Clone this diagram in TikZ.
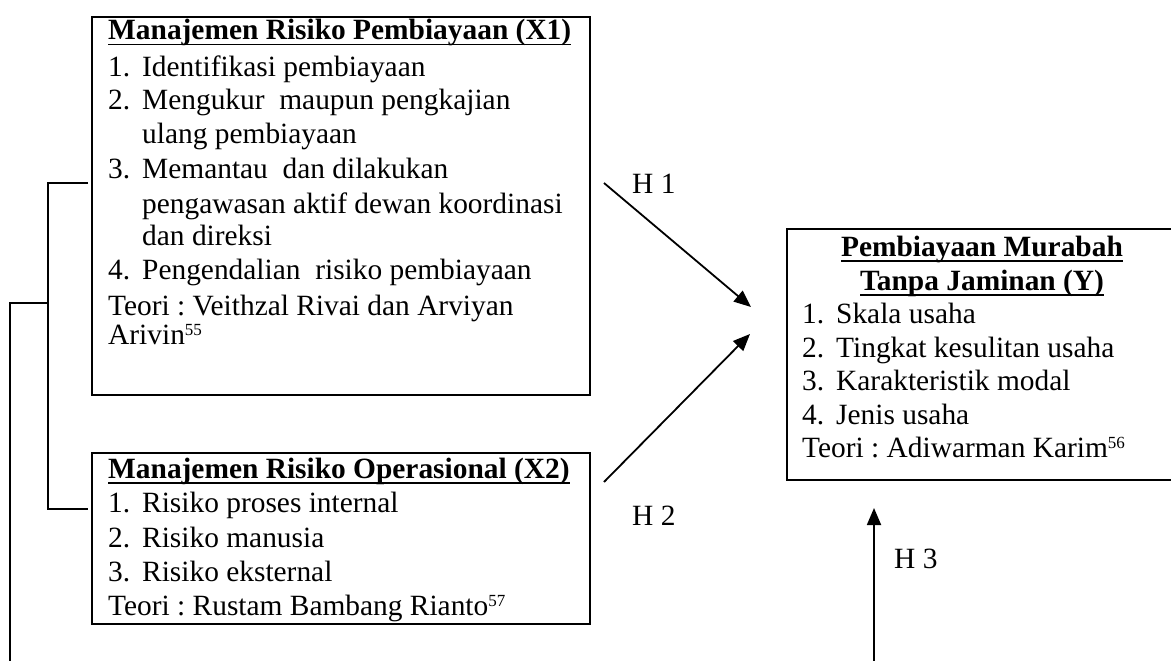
\documentclass[tikz,border=0pt]{standalone}
\usepackage{fontspec}
\setmainfont{Liberation Serif}
\usetikzlibrary{arrows.meta}
\frenchspacing
\newcommand\myul[1]{{\setbox0\hbox{#1}\rlap{\rule[-5.5pt]{\wd0}{1.6pt}}\box0}}
\newcommand\num[1]{\makebox[34pt][l]{#1}}
\newcommand\mysupr[1]{\raisebox{9pt}{\fontsize{17}{17}\selectfont #1}}
\begin{document}
\begin{tikzpicture}[x=1pt,y=-1pt,
  every node/.style={font=\fontsize{29.4}{34}\selectfont},
  box/.style={draw,line width=1.8pt,anchor=north west,inner sep=0pt},
  txt/.style={anchor=base west,inner sep=0pt},
  ttl/.style={anchor=base,inner sep=0pt,font=\fontsize{29.4}{34}\selectfont\bfseries},
  link/.style={line width=1.5pt},
  arr/.style={line width=1.8pt,-{Triangle[length=17pt,width=14pt]}}]
\useasboundingbox (0,0) rectangle (1171,661);
\clip (0,0) rectangle (1171,661);
% boxes
\node[box,minimum width=498pt,minimum height=378pt] (x1) at (91,16) {};
\node[box,minimum width=498pt,minimum height=171pt] (x2) at (91,452) {};
\node[box,minimum width=400pt,minimum height=251pt] (y) at (786,228) {};
% X1 text
\node[txt,font=\fontsize{29.4}{34}\selectfont\bfseries] (x1t) at (108,40) {\myul{Manajemen Risiko Pembiayaan (X1)}};
\node[txt] (x1a) at (108,77) {\num{1.}Identifikasi pembiayaan};
\node[txt] (x1b) at (108,110) {\num{2.}Mengukur\ \ maupun pengkajian};
\node[txt] (x1b2) at (142,143) {ulang pembiayaan};
\node[txt] (x1c) at (108,178) {\num{3.}Memantau\ \ dan dilakukan};
\node[txt] (x1c2) at (142,213) {pengawasan aktif dewan koordinasi};
\node[txt] (x1c3) at (142,245) {dan direksi};
\node[txt] (x1d) at (108,279) {\num{4.}Pengendalian\ \ risiko pembiayaan};
\node[txt] (x1e) at (108,315) {Teori : Veithzal Rivai dan Arviyan};
\node[txt] (x1f) at (108,344) {Arivin\mysupr{55}};
% X2 text
\node[txt,font=\fontsize{29.4}{34}\selectfont\bfseries] (x2t) at (108,478) {\myul{Manajemen Risiko Operasional (X2)}};
\node[txt] (x2a) at (108,512) {\num{1.}Risiko proses internal};
\node[txt] (x2b) at (108,547) {\num{2.}Risiko manusia};
\node[txt] (x2c) at (108,581) {\num{3.}Risiko eksternal};
\node[txt] (x2d) at (108,615) {Teori : Rustam Bambang Rianto\mysupr{57}};
% Y text
\node[ttl] (yt1) at (982,256) {\myul{Pembiayaan Murabah}};
\node[ttl] (yt2) at (982,290) {\myul{Tanpa Jaminan (Y)}};
\node[txt] (ya) at (802,323) {\num{1.}Skala usaha};
\node[txt] (yb) at (802,357) {\num{2.}Tingkat kesulitan usaha};
\node[txt] (yc) at (802,390) {\num{3.}Karakteristik modal};
\node[txt] (yd) at (802,424) {\num{4.}Jenis usaha};
\node[txt] (ye) at (802,457) {Teori : Adiwarman Karim\mysupr{56}};
% hypothesis arrows
\coordinate (h1s) at (604,183);
\coordinate (h1e) at (751,307);
\coordinate (h2s) at (604,482);
\coordinate (h2e) at (750,334);
\coordinate (h3s) at (874,665);
\coordinate (h3e) at (874,508);
\draw[arr] (h1s) -- (h1e);
\draw[arr] (h2s) -- (h2e);
\draw[arr] (h3s) -- (h3e);
\node[txt] (lh1) at (632,193) {H 1};
\node[txt] (lh2) at (632,525) {H 2};
\node[txt] (lh3) at (894,568) {H 3};
% bracket lines
\coordinate (b1) at (88,183);
\coordinate (b2) at (48,183);
\coordinate (b3) at (48,509);
\coordinate (b4) at (88,509);
\coordinate (b5) at (48,303);
\coordinate (b6) at (10,303);
\coordinate (b7) at (10,665);
\draw[link] (b1) -- (b2) -- (b3) -- (b4);
\draw[link] (b5) -- (b6) -- (b7);
\end{tikzpicture}
\end{document}
